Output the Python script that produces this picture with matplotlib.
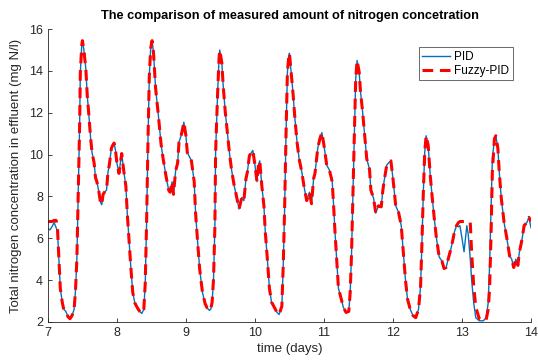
import matplotlib
matplotlib.use('Agg')
import matplotlib.pyplot as plt

plt.rcParams['font.family'] = ['Liberation Sans', 'DejaVu Sans']

# time (days)
t = [7.00, 7.03, 7.06, 7.09, 7.12, 7.14, 7.16, 7.18, 7.21, 7.23, 7.26, 7.29, 7.32, 7.35, 7.38,
     7.40, 7.42, 7.44, 7.46, 7.47, 7.49, 7.50, 7.52, 7.55, 7.57, 7.59, 7.62, 7.64, 7.67, 7.69,
     7.71, 7.74, 7.76, 7.78, 7.80, 7.82, 7.85, 7.87, 7.89, 7.92, 7.94, 7.96, 7.98, 8.00, 8.03,
     8.05, 8.07, 8.10, 8.13, 8.15, 8.18, 8.20, 8.23, 8.26, 8.30, 8.33, 8.36, 8.39, 8.41, 8.43,
     8.45, 8.47, 8.49, 8.51, 8.53, 8.56, 8.60, 8.64, 8.67, 8.71, 8.75, 8.77, 8.80, 8.82, 8.85,
     8.88, 8.90, 8.93, 8.95, 8.97, 9.00, 9.02, 9.05, 9.08, 9.12, 9.14, 9.17, 9.20, 9.24, 9.28,
     9.31, 9.34, 9.36, 9.38, 9.40, 9.42, 9.43, 9.46, 9.48, 9.49, 9.52, 9.54, 9.57, 9.60, 9.63,
     9.66, 9.70, 9.73, 9.77, 9.81, 9.84, 9.87, 9.89, 9.92, 9.94, 9.97, 10.00, 10.03, 10.05, 10.07,
     10.10, 10.13, 10.15, 10.18, 10.21, 10.24, 10.28, 10.32, 10.35, 10.39, 10.41, 10.43, 10.45, 10.47, 10.49,
     10.50, 10.52, 10.55, 10.58, 10.61, 10.64, 10.68, 10.71, 10.75, 10.79, 10.82, 10.85, 10.87, 10.91, 10.94,
     10.97, 11.00, 11.04, 11.08, 11.12, 11.14, 11.16, 11.19, 11.21, 11.25, 11.28, 11.32, 11.36, 11.38, 11.40,
     11.42, 11.44, 11.46, 11.48, 11.51, 11.53, 11.56, 11.59, 11.62, 11.66, 11.68, 11.72, 11.75, 11.79, 11.83,
     11.85, 11.87, 11.91, 11.95, 11.97, 12.00, 12.04, 12.08, 12.12, 12.15, 12.18, 12.21, 12.25, 12.29, 12.33,
     12.37, 12.40, 12.42, 12.44, 12.46, 12.48, 12.51, 12.54, 12.57, 12.60, 12.63, 12.67, 12.71, 12.74, 12.77,
     12.80, 12.84, 12.87, 12.89, 12.92, 12.95, 12.97, 13.00, 13.03, 13.07, 13.09, 13.12, 13.14, 13.17, 13.20,
     13.25, 13.31, 13.35, 13.38, 13.40, 13.42, 13.44, 13.47, 13.49, 13.52, 13.54, 13.57, 13.61, 13.65, 13.69,
     13.72, 13.75, 13.78, 13.81, 13.83, 13.87, 13.90, 13.94, 13.97, 14.00]

# PID effluent nitrogen (mg N/l)
pid = [6.45, 6.40, 6.55, 6.75, 6.50, 6.30, 5.00, 3.60, 2.90, 2.60, 2.50, 2.25, 2.15, 2.30, 2.60,
       3.50, 5.00, 8.20, 11.40, 13.90, 15.20, 15.45, 15.05, 14.10, 12.85, 12.05, 10.75, 10.10, 9.60, 8.90,
       8.70, 8.20, 7.75, 7.60, 8.10, 8.20, 8.30, 9.15, 9.50, 10.30, 10.45, 10.55, 10.20, 9.60, 9.10,
       9.60, 10.05, 9.20, 8.50, 7.20, 5.70, 4.70, 3.40, 2.90, 2.65, 2.50, 2.40, 2.60, 3.80, 6.70,
       10.60, 13.80, 15.10, 15.45, 14.90, 13.20, 11.90, 10.50, 9.80, 9.00, 8.30, 8.20, 8.70, 8.10, 9.20,
       9.60, 10.60, 10.90, 11.20, 11.55, 10.90, 10.10, 9.90, 9.70, 8.70, 7.20, 5.80, 4.50, 3.40, 2.85,
       2.65, 2.55, 2.60, 2.95, 4.05, 6.60, 10.10, 13.00, 14.60, 15.00, 14.40, 13.30, 12.05, 11.10, 10.10,
       9.30, 8.50, 8.05, 7.40, 7.95, 7.80, 8.85, 9.15, 9.95, 10.05, 10.20, 9.50, 8.70, 9.50, 9.70,
       8.50, 7.55, 6.30, 5.00, 3.60, 2.95, 2.70, 2.45, 2.35, 2.75, 4.70, 7.40, 10.90, 13.90, 14.70,
       14.85, 14.10, 13.00, 11.70, 10.60, 9.80, 9.15, 8.50, 7.80, 8.20, 7.65, 8.85, 9.10, 10.30, 10.75,
       11.05, 10.45, 9.50, 9.25, 8.70, 7.55, 6.30, 4.70, 3.60, 3.10, 2.70, 2.45, 2.50, 3.40, 5.30,
       8.20, 10.90, 13.60, 14.50, 13.95, 13.00, 12.05, 10.90, 9.80, 9.30, 8.30, 7.90, 7.20, 7.55, 7.50,
       8.20, 8.70, 9.50, 9.65, 9.70, 8.85, 7.55, 7.25, 6.60, 5.30, 4.05, 3.10, 2.60, 2.30, 2.20,
       2.60, 3.70, 5.80, 8.20, 10.10, 10.90, 10.45, 9.00, 7.90, 6.90, 6.00, 5.10, 4.90, 4.55, 4.60,
       5.00, 5.50, 5.95, 6.30, 6.60, 6.55, 6.60, 6.00, 5.35, 6.60, 6.20, 5.00, 4.00, 2.90, 2.20,
       2.05, 2.05, 2.20, 2.90, 4.70, 7.20, 9.80, 10.75, 10.90, 10.30, 9.15, 7.90, 6.75, 6.00, 5.15,
       5.00, 4.60, 5.00, 4.70, 5.30, 5.95, 6.60, 6.75, 7.00, 6.50]

# Fuzzy-PID effluent nitrogen (mg N/l)
fuzzy = [6.80, 6.80, 6.80, 6.85, 6.85, 6.40, 5.00, 3.60, 2.90, 2.60, 2.50, 2.25, 2.15, 2.30, 2.60,
         3.50, 5.00, 8.20, 11.40, 13.90, 15.20, 15.45, 15.05, 14.10, 12.85, 12.05, 10.75, 10.10, 9.60, 8.90,
         8.70, 8.20, 7.75, 7.60, 8.10, 8.20, 8.30, 9.15, 9.50, 10.30, 10.45, 10.55, 10.20, 9.60, 9.10,
         9.60, 10.05, 9.20, 8.50, 7.20, 5.70, 4.70, 3.40, 2.90, 2.65, 2.50, 2.40, 2.60, 3.80, 6.70,
         10.60, 13.80, 15.10, 15.45, 14.90, 13.20, 11.90, 10.50, 9.80, 9.00, 8.30, 8.20, 8.70, 8.10, 9.20,
         9.60, 10.60, 10.90, 11.20, 11.55, 10.90, 10.10, 9.90, 9.70, 8.70, 7.20, 5.80, 4.50, 3.40, 2.85,
         2.65, 2.55, 2.60, 2.95, 4.05, 6.60, 10.10, 13.00, 14.60, 15.00, 14.40, 13.30, 12.05, 11.10, 10.10,
         9.30, 8.50, 8.05, 7.40, 7.95, 7.80, 8.85, 9.15, 9.95, 10.05, 10.20, 9.50, 8.70, 9.50, 9.70,
         8.50, 7.55, 6.30, 5.00, 3.60, 2.95, 2.70, 2.45, 2.35, 2.75, 4.70, 7.40, 10.90, 13.90, 14.70,
         14.85, 14.10, 13.00, 11.70, 10.60, 9.80, 9.15, 8.50, 7.80, 8.20, 7.65, 8.85, 9.10, 10.30, 10.75,
         11.05, 10.45, 9.50, 9.25, 8.70, 7.55, 6.30, 4.70, 3.60, 3.10, 2.70, 2.45, 2.50, 3.40, 5.30,
         8.20, 10.90, 13.60, 14.50, 13.95, 13.00, 12.05, 10.90, 9.80, 9.30, 8.30, 7.90, 7.20, 7.55, 7.50,
         8.20, 8.70, 9.50, 9.65, 9.70, 8.85, 7.55, 7.25, 6.60, 5.30, 4.05, 3.10, 2.60, 2.30, 2.20,
         2.60, 3.70, 5.80, 8.20, 10.10, 10.90, 10.45, 9.00, 7.90, 6.90, 6.00, 5.10, 4.90, 4.55, 4.60,
         5.00, 5.50, 5.95, 6.30, 6.60, 6.75, 6.80, 6.80, 6.80, 6.80, 6.80, 6.75, 5.30, 3.70, 2.70,
         2.15, 2.05, 2.10, 2.60, 3.60, 6.00, 9.20, 10.75, 10.90, 10.30, 9.15, 7.90, 6.75, 6.00, 5.15,
         5.00, 4.60, 5.00, 4.70, 5.30, 5.95, 6.60, 6.75, 7.00, 6.80]

fig = plt.figure(figsize=(5.38, 3.6), dpi=100)
ax = fig.add_axes([0.089, 0.106, 0.898, 0.813])

ax.plot(t, pid, color='#0072BD', linewidth=1.0, label='PID')
ax.plot(t, fuzzy, color='red', linestyle='--', linewidth=2.2, dashes=(3.5, 2.2), label='Fuzzy-PID')

ax.set_xlim(7, 14)
ax.set_ylim(2, 16)
ax.set_xticks(range(7, 15))
ax.set_yticks(range(2, 17, 2))
ax.tick_params(direction='in', labelsize=9, colors='#262626', length=3, width=0.6)
for s in ['top', 'right']:
    ax.spines[s].set_visible(False)
for s in ['left', 'bottom']:
    ax.spines[s].set_color('#262626')
    ax.spines[s].set_linewidth(0.6)

ax.set_title('The comparison of measured amount of nitrogen concetration',
             fontsize=9.2, fontweight='bold', pad=7)
ax.set_xlabel('time (days)', fontsize=9.5, color='#262626', labelpad=3)
ax.set_ylabel('Total nitrogen concentration in effluent (mg N/l)', fontsize=9.5, color='#262626', labelpad=5)

leg = ax.legend(loc='upper right', bbox_to_anchor=(0.974, 0.958), fontsize=8.5, fancybox=False,
                handlelength=2.4, borderpad=0.3, labelspacing=0.15, handletextpad=0.3)
leg.get_frame().set_edgecolor('#262626')
leg.get_frame().set_linewidth(0.6)

plt.savefig('out.png', dpi=100)
